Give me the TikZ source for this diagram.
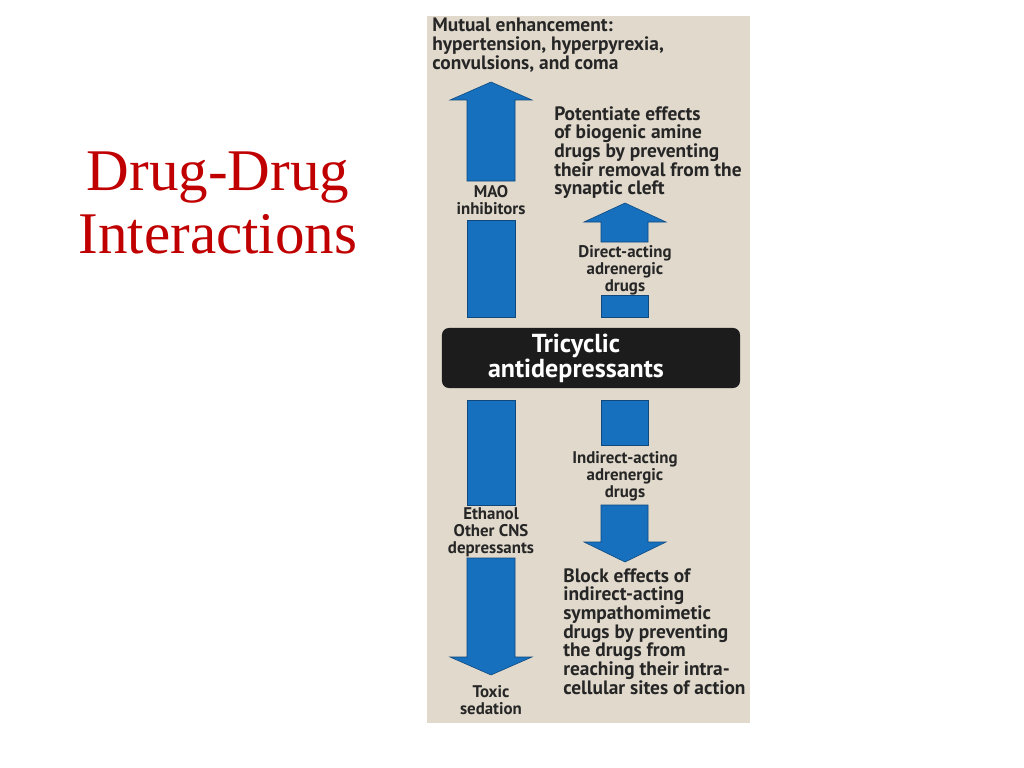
\documentclass[tikz,border=0pt]{standalone}
\usepackage{fontspec}
\setmainfont{Liberation Serif}
\newfontfamily\panelfont{PT Sans}
\usetikzlibrary{positioning}
\definecolor{titlered}{RGB}{192,0,0}
\definecolor{panel}{RGB}{224,217,204}
\definecolor{arrowblue}{RGB}{22,112,190}
\definecolor{arrowedge}{RGB}{14,72,125}
\definecolor{boxdark}{RGB}{28,28,28}
\begin{document}
\begin{tikzpicture}[
        x=0.025cm, y=-0.025cm,
        title/.style={text=titlered, align=center, font=\fontsize{42}{45}\selectfont, inner sep=0pt},
        label/.style={text=black!85, align=center, inner sep=0pt, font=\panelfont\bfseries\fontsize{12}{12.2}\selectfont},
        note/.style={label, align=left, font=\panelfont\bfseries\fontsize{13.8}{13.3}\selectfont},
        tcabox/.style={rectangle, rounded corners=5pt, fill=boxdark, minimum width=7.45cm, minimum height=1.5cm},
        tcatext/.style={text=white, align=center, inner sep=0pt, font=\panelfont\bfseries\fontsize{18.5}{17.8}\selectfont},
        blockarrow/.style={fill=arrowblue, draw=arrowedge, line width=0.4pt}
    ]
        \useasboundingbox (0,0) rectangle (1024,768);

        % title
        \node[title] (title) at (218,203) {Drug-Drug\\Interactions};

        % panel
        \fill[panel] (427,16) rectangle (750,723);

        % centre box
        \node[tcabox] (tca) at (591,358) {};
        \node[tcatext] (tcalabel) at (576,358) {Tricyclic\\antidepressants};

        % up arrows
        \draw[blockarrow] (467,181) -- (467,100) -- (450,100) -- (491,82) -- (532,100) -- (515,100) -- (515,181) -- cycle;
        \draw[blockarrow] (467,220) rectangle (515,317);
        \draw[blockarrow] (601,242) -- (601,222) -- (584,222) -- (625,203) -- (666,222) -- (648,222) -- (648,242) -- cycle;
        \draw[blockarrow] (601,295) rectangle (648,317);

        % down arrows
        \draw[blockarrow] (467,400) rectangle (515,505);
        \draw[blockarrow] (467,558) -- (467,657) -- (450,657) -- (491,675) -- (532,657) -- (515,657) -- (515,558) -- cycle;
        \draw[blockarrow] (601,400) rectangle (648,445);
        \draw[blockarrow] (601,505) -- (601,542) -- (584,542) -- (625,562) -- (666,542) -- (648,542) -- (648,505) -- cycle;

        % labels
        \node[note, anchor=north west] (mutual) at (432,18) {Mutual enhancement:\\hypertension, hyperpyrexia,\\convulsions, and coma};
        \node[note, anchor=north west] (potentiate) at (554,106) {Potentiate effects\\of biogenic amine\\drugs by preventing\\their removal from the\\synaptic cleft};
        \node[label] (mao) at (491,200) {MAO\\inhibitors};
        \node[label] (direct) at (625,270) {Direct-acting\\adrenergic\\drugs};
        \node[label] (indirect) at (625,476) {Indirect-acting\\adrenergic\\drugs};
        \node[label] (ethanol) at (491,532) {Ethanol\\Other CNS\\depressants};
        \node[label] (toxic) at (491,700) {Toxic\\sedation};
        \node[note, anchor=north west] (block) at (563,568) {Block effects of\\indirect-acting\\sympathomimetic\\drugs by preventing\\the drugs from\\reaching their intra-\\cellular sites of action};
    \end{tikzpicture}
\end{document}
